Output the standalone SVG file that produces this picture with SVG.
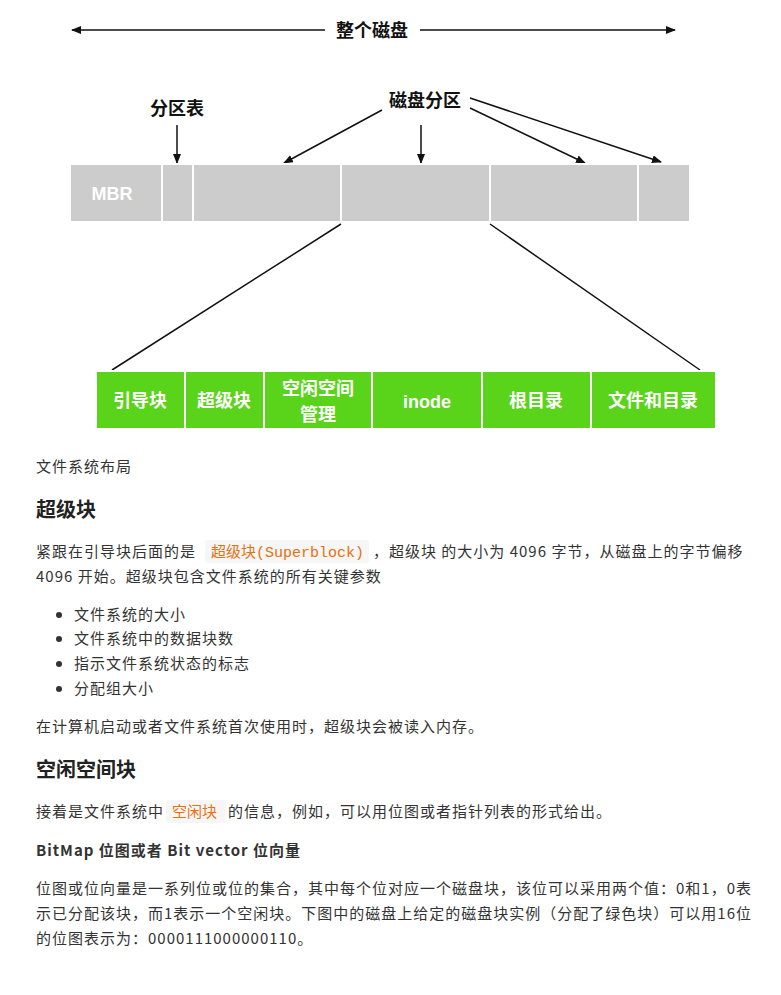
<svg xmlns="http://www.w3.org/2000/svg" width="781" height="995" viewBox="0 0 781 995">
<style>
.d{font-family:"Liberation Sans","Noto Sans CJK SC",sans-serif;font-weight:bold;fill:#111;font-size:18px}
.g{fill:#ccc;stroke:#fff;stroke-width:2}
.gr{fill:#5ad41b;stroke:#fff;stroke-width:2}
.w{font-family:"Liberation Sans","Noto Sans CJK SC",sans-serif;font-weight:bold;fill:#fff;font-size:18px;text-anchor:middle}
.t{font-family:"Noto Sans CJK SC",sans-serif;fill:#333;font-size:15px;letter-spacing:1px}
.h{font-family:"Noto Sans CJK SC",sans-serif;fill:#222;font-size:20px;font-weight:bold}
.c{font-family:"Liberation Mono","Noto Sans CJK SC",monospace;fill:#e8700f;font-size:15px;letter-spacing:0}
line{stroke:#111;stroke-width:1.5}
</style>
<defs><marker id="a" markerWidth="10" markerHeight="8" refX="9" refY="4" orient="auto" markerUnits="userSpaceOnUse"><path d="M0,0L10,4L0,8z" fill="#111"/></marker></defs>
<rect width="781" height="995" fill="#fff"/>
<g id="connectors">
<line x1="325" y1="30" x2="72" y2="30" marker-end="url(#a)"/>
<line x1="420" y1="30" x2="675" y2="30" marker-end="url(#a)"/>
<line x1="177" y1="125" x2="177" y2="163" marker-end="url(#a)"/>
<line x1="382" y1="110" x2="284" y2="163" marker-end="url(#a)"/>
<line x1="421" y1="125" x2="421" y2="163" marker-end="url(#a)"/>
<line x1="470" y1="108" x2="585" y2="163" marker-end="url(#a)"/>
<line x1="470" y1="98" x2="661" y2="162" marker-end="url(#a)"/>
<line x1="341" y1="224" x2="112" y2="370"/>
<line x1="490" y1="224" x2="700" y2="370"/>
</g>
<g id="labels">
<text class="d" x="372" y="37" text-anchor="middle">整个磁盘</text>
<text class="d" x="177" y="115" text-anchor="middle">分区表</text>
<text class="d" x="425" y="107" text-anchor="middle">磁盘分区</text>
</g>
<g id="disk">
<rect class="g" x="70" y="164" width="92" height="58"/>
<rect class="g" x="162" y="164" width="31" height="58"/>
<rect class="g" x="193" y="164" width="148" height="58"/>
<rect class="g" x="341" y="164" width="149" height="58"/>
<rect class="g" x="490" y="164" width="148" height="58"/>
<rect class="g" x="638" y="164" width="52" height="58"/>
<text class="w" x="112" y="200" font-size="17">MBR</text>
</g>
<g id="fs">
<rect class="gr" x="96" y="371" width="89" height="58"/>
<rect class="gr" x="185" y="371" width="79" height="58"/>
<rect class="gr" x="264" y="371" width="108" height="58"/>
<rect class="gr" x="372" y="371" width="110" height="58"/>
<rect class="gr" x="482" y="371" width="109" height="58"/>
<rect class="gr" x="591" y="371" width="125" height="58"/>
<text class="w" x="140" y="407">引导块</text>
<text class="w" x="224" y="407">超级块</text>
<text class="w" x="318" y="395">空闲空间</text>
<text class="w" x="318" y="421">管理</text>
<text class="w" x="427" y="408">inode</text>
<text class="w" x="536" y="407">根目录</text>
<text class="w" x="653" y="407">文件和目录</text>
</g>
<g id="text">
<text class="t" x="36" y="472">文件系统布局</text>
<text class="h" x="36" y="517">超级块</text>
<rect x="205" y="540" width="164" height="23" rx="3" fill="#f6f6f6"/>
<text class="t" x="36" y="557">紧跟在引导块后面的是<tspan class="c" x="211">超级块(Superblock)</tspan><tspan x="373">，超级块 的大小为 4096 字节，从磁盘上的字节偏移</tspan></text>
<text class="t" x="36" y="582">4096 开始。超级块包含文件系统的所有关键参数</text>
<g fill="#333"><circle cx="59" cy="615" r="3"/><circle cx="59" cy="639" r="3"/><circle cx="59" cy="664" r="3"/><circle cx="59" cy="689" r="3"/></g>
<text class="t" x="74" y="620">文件系统的大小</text>
<text class="t" x="74" y="644">文件系统中的数据块数</text>
<text class="t" x="74" y="669">指示文件系统状态的标志</text>
<text class="t" x="74" y="694">分配组大小</text>
<text class="t" x="36" y="732">在计算机启动或者文件系统首次使用时，超级块会被读入内存。</text>
<text class="h" x="36" y="777">空闲空间块</text>
<rect x="166" y="800" width="60" height="23" rx="3" fill="#f6f6f6"/>
<text class="t" x="36" y="817">接着是文件系统中<tspan class="c" x="172">空闲块</tspan><tspan x="228">的信息，例如，可以用位图或者指针列表的形式给出。</tspan></text>
<text class="t" x="36" y="856" font-weight="bold" fill="#222" letter-spacing="0">BitMap 位图或者 Bit vector 位向量</text>
<text class="t" x="36" y="894">位图或位向量是一系列位或位的集合，其中每个位对应一个磁盘块，该位可以采用两个值：0和1，0表</text>
<text class="t" x="36" y="919">示已分配该块，而1表示一个空闲块。下图中的磁盘上给定的磁盘块实例（分配了绿色块）可以用16位</text>
<text class="t" x="36" y="944">的位图表示为：0000111000000110。</text>
</g>
</svg>
